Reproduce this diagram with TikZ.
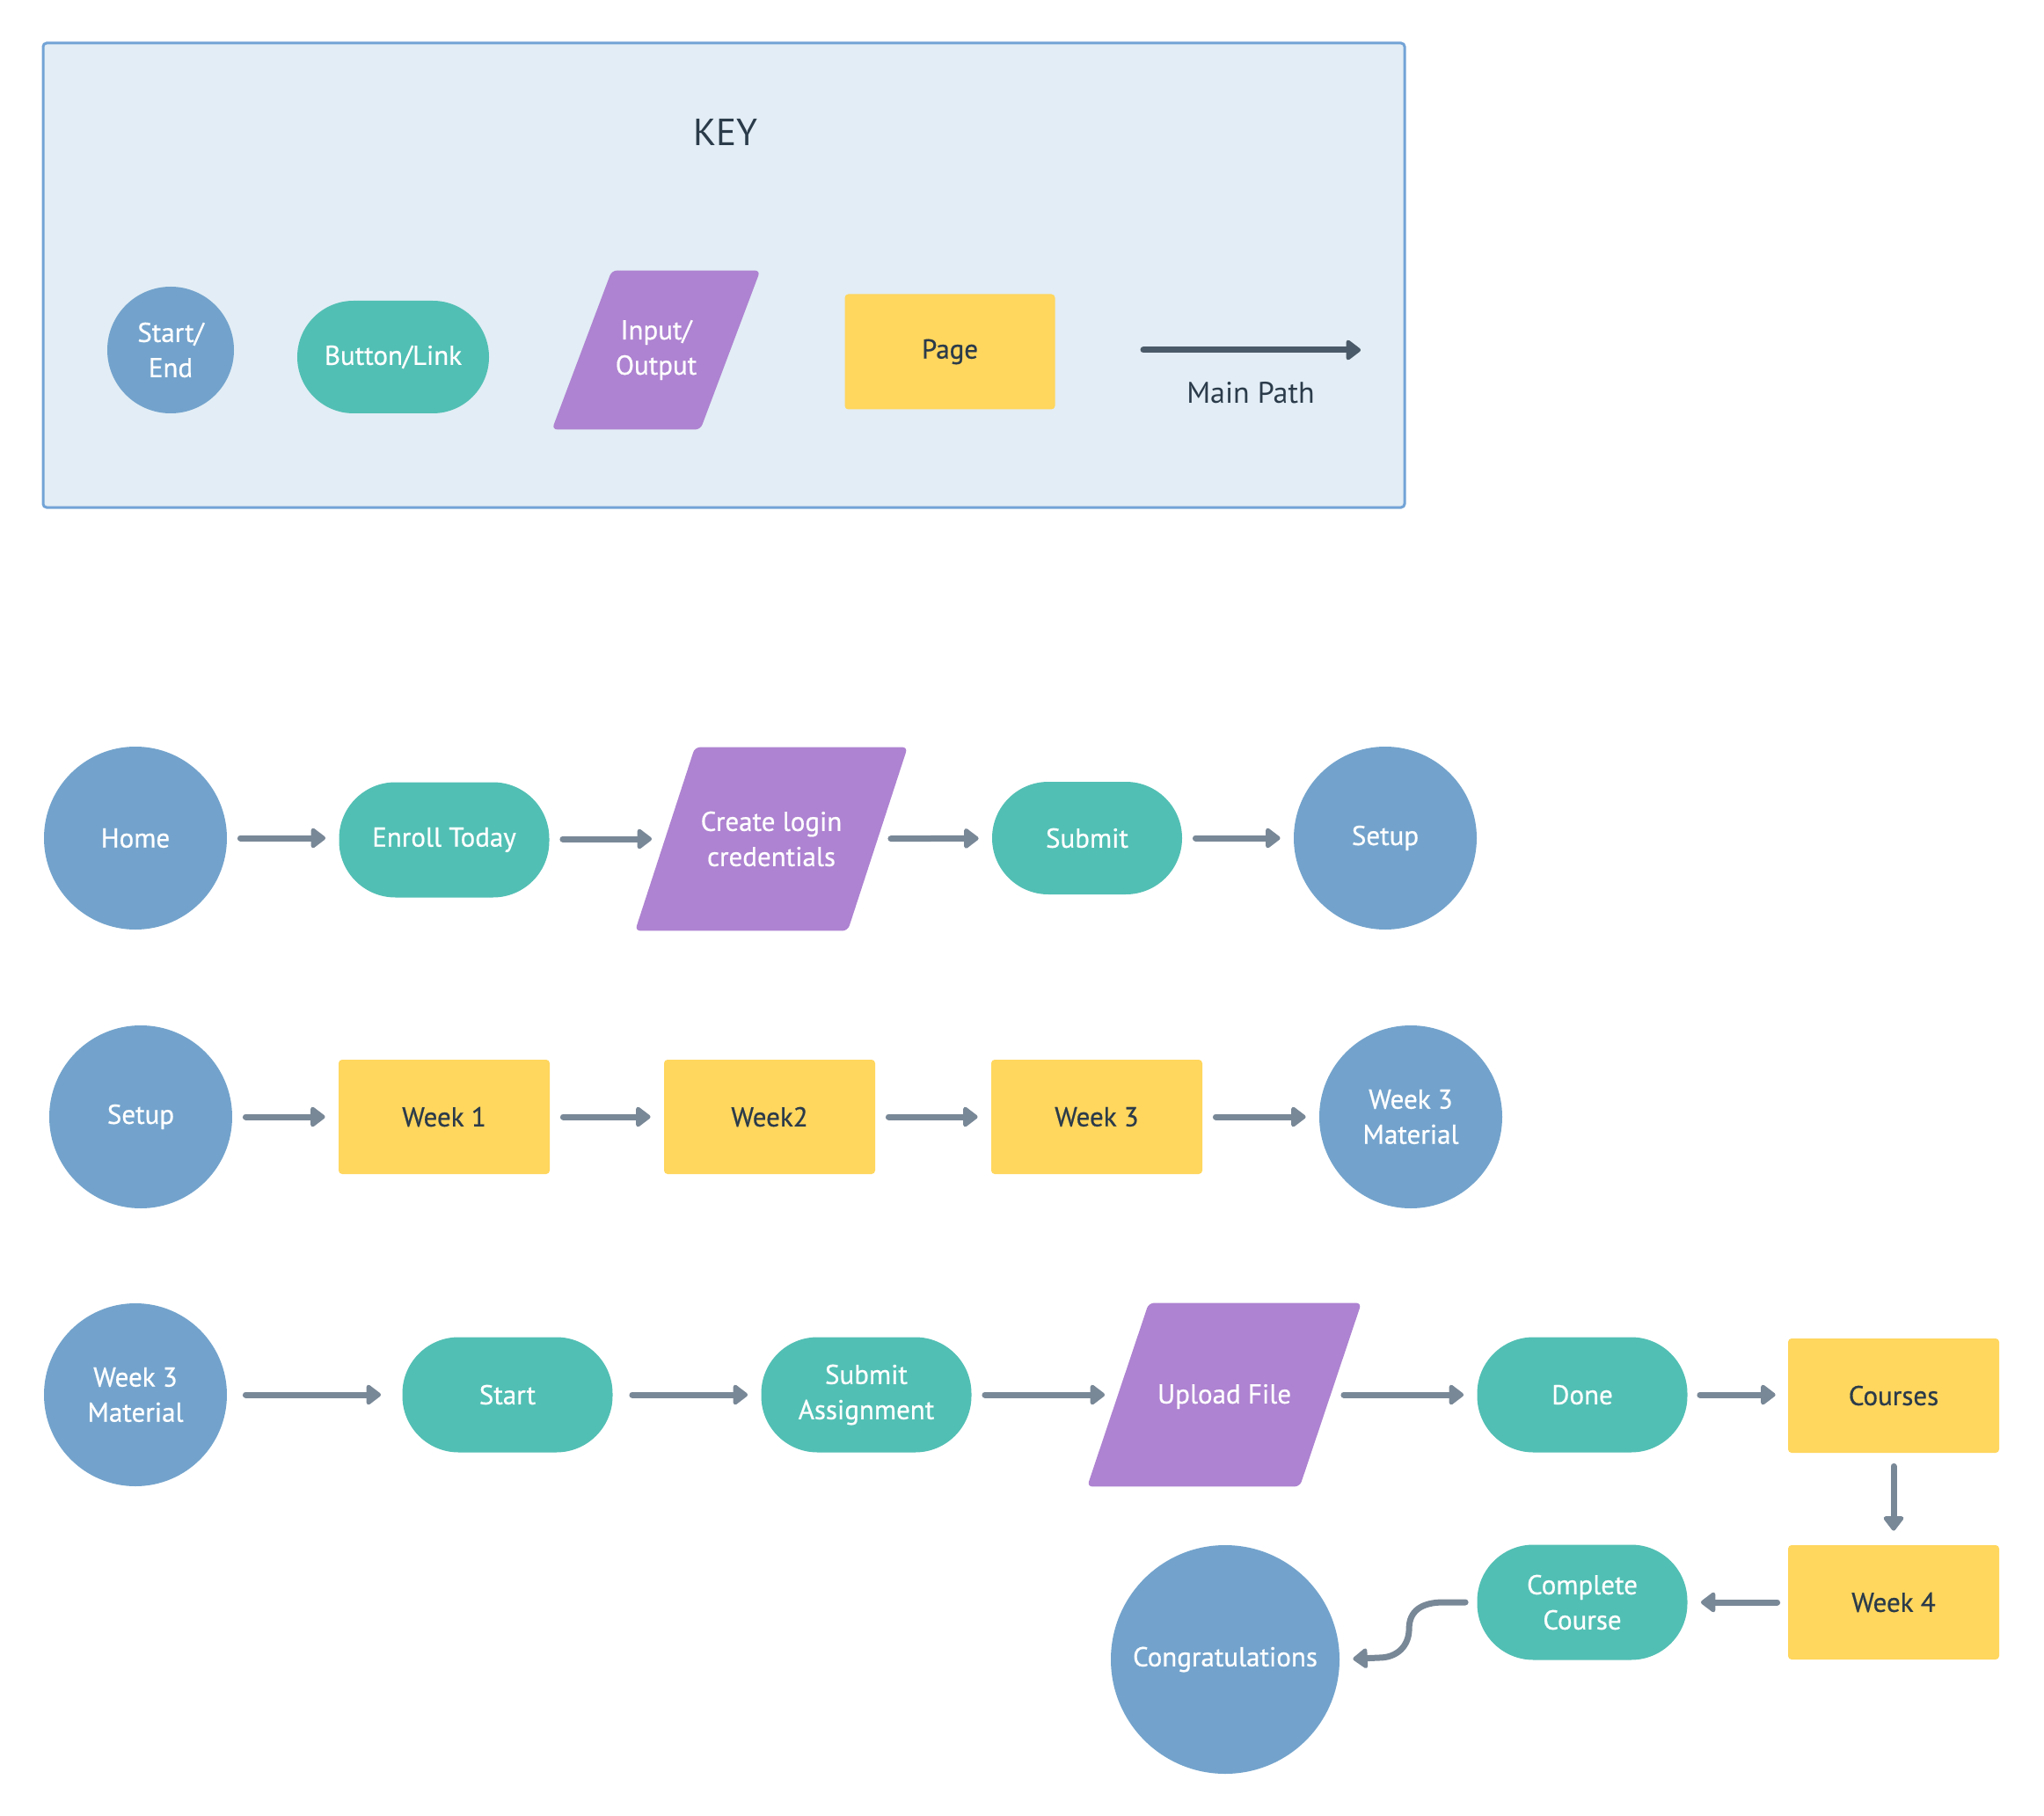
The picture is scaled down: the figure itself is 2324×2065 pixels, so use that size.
\documentclass[tikz,border=0pt]{standalone}
\usepackage{fontspec}
\setmainfont{PT Sans}
\newfontfamily\shapefont{PT Sans}[FakeBold=0.6]
\usetikzlibrary{arrows.meta,calc,backgrounds}
\definecolor{cblue}{HTML}{73A3CC}
\definecolor{cteal}{HTML}{52BFB4}
\definecolor{cpurple}{HTML}{AE83D1}
\definecolor{cyellow}{HTML}{FFD65E}
\definecolor{cgrey}{HTML}{798897}
\definecolor{cdark}{HTML}{2B3B4A}
\definecolor{ckeyarrow}{HTML}{4B5A68}
\definecolor{ckeyfill}{HTML}{E2EDF5}
\definecolor{ckeyline}{HTML}{72A3D6}
\begin{document}
\begin{tikzpicture}[x=0.5pt,y=-0.5pt,
  base/.style={font=\shapefont\fontsize{15.5}{20}\selectfont, align=center, inner sep=0pt},
  startend/.style={base, circle, fill=cblue, text=white, minimum size=104pt},
  button/.style={base, rectangle, rounded corners=32pt, fill=cteal, text=white, minimum width=119.5pt, minimum height=65.5pt},
  page/.style={base, rectangle, rounded corners=2pt, fill=cyellow, text=cdark, minimum width=120pt, minimum height=65pt},
  io/.style={base, rectangle, text=white, minimum width=120.5pt, minimum height=104pt},
  iofill/.style={fill=cpurple, rounded corners=3pt},
  conn/.style={draw=cgrey, line width=3.5pt, line cap=round, line join=round,
    -{Triangle[length=9pt,width=13pt,round]}, shorten <=7.5pt, shorten >=7.5pt},
  keyconn/.style={conn, draw=ckeyarrow, shorten <=0pt, shorten >=0pt}
]
\useasboundingbox (0,0) rectangle (2324,2065);

% ---------- KEY ----------
\node[font=\fontsize{21.5}{26}\selectfont, text=cdark] (keytitle) at (825,150) {KEY};
\node[startend, minimum size=72pt] (ks) at (194,398) {Start/\\End};
\node[button, minimum width=109pt, minimum height=64pt] (kb) at (447,406) {Button/Link};
\node[io, minimum width=84pt, minimum height=90pt] (kio) at (746,398) {Input/\\Output};
\node[page, minimum width=119.5pt, minimum height=65.5pt] (kp) at (1080,400) {Page};
\coordinate (ka1) at (1300,398);
\coordinate (ka2) at (1547,398);
\draw[keyconn] (ka1) -- (ka2);
\node[font=\fontsize{17}{20}\selectfont, text=cdark] (kmain) at (1422,447) {Main Path};

% ---------- Row 1 ----------
\node[startend] (home) at (154,953) {Home};
\node[button] (enroll) at (505,955) {Enroll Today};
\node[io] (create) at (877,954) {Create login\\credentials};
\node[button, minimum width=108pt, minimum height=64pt] (submit) at (1236,953) {Submit};
\node[startend] (setup1) at (1575,953) {Setup};

% ---------- Row 2 ----------
\node[startend] (setup2) at (160,1270) {Setup};
\node[page] (w1) at (505,1270) {Week 1};
\node[page] (w2) at (875,1270) {Week2};
\node[page] (w3) at (1247,1270) {Week 3};
\node[startend] (w3m1) at (1604,1270) {Week 3\\Material};

% ---------- Row 3 ----------
\node[startend] (w3m2) at (154,1586) {Week 3\\Material};
\node[button] (start) at (577,1586) {Start};
\node[button] (subass) at (985,1586) {Submit\\Assignment};
\node[io] (upload) at (1392,1588) {Upload File};
\node[button] (done) at (1799,1586) {Done};
\node[page] (courses) at (2153,1587) {Courses};
\node[page] (w4) at (2153,1822) {Week 4};
\node[button] (complete) at (1799,1822) {Complete\\Course};
\node[startend, minimum size=130pt] (congr) at (1393,1887) {Congratulations};

% ---------- backgrounds: key box and parallelograms ----------
\begin{pgfonlayer}{background}
  \draw[fill=ckeyfill, draw=ckeyline, line width=1.5pt, rounded corners=2pt] (49,49) rectangle (1597,577);
  \fill[iofill] ($(kio.north west)+(34,0)$) -- ($(kio.north east)+(34,0)$) -- ($(kio.south east)+(-34,0)$) -- ($(kio.south west)+(-34,0)$) -- cycle;
  \fill[iofill] ($(create.north west)+(34,0)$) -- ($(create.north east)+(34,0)$) -- ($(create.south east)+(-34,0)$) -- ($(create.south west)+(-34,0)$) -- cycle;
  \fill[iofill] ($(upload.north west)+(35,-2)$) -- ($(upload.north east)+(35,-2)$) -- ($(upload.south east)+(-35,-2)$) -- ($(upload.south west)+(-35,-2)$) -- cycle;
\end{pgfonlayer}

% ---------- connectors ----------
\draw[conn] (home) -- (enroll.west |- home);
\draw[conn] (enroll.east |- create) -- (create);
\draw[conn] (create) -- (submit);
\draw[conn] (submit) -- (setup1);

\draw[conn] (setup2) -- (w1);
\draw[conn] (w1) -- (w2);
\draw[conn] (w2) -- (w3);
\draw[conn] (w3) -- (w3m1);

\draw[conn, shorten <=10.5pt, shorten >=12pt] (w3m2) -- (start);
\draw[conn, shorten <=11pt] (start) -- (subass);
\draw[conn] (subass) -- (upload.west |- subass);
\draw[conn] (upload.east |- done) -- (done);
\draw[conn, shorten <=7pt, shorten >=7pt] (done.east) -- (done.east -| courses.west);
\draw[conn, shorten >=8pt] (courses) -- (w4);
\draw[conn, shorten <=6pt] (w4) -- (complete);
\draw[conn, shorten <=0pt] ([xshift=-6.5pt]complete.west) -- ++(-25,0)
   .. controls +(-25,0) and +(0,-20) .. ++(-39,30)
   .. controls +(0,20) and +(20,0) .. ++(-34,33)
   -- (congr.east);
\end{tikzpicture}
\end{document}
